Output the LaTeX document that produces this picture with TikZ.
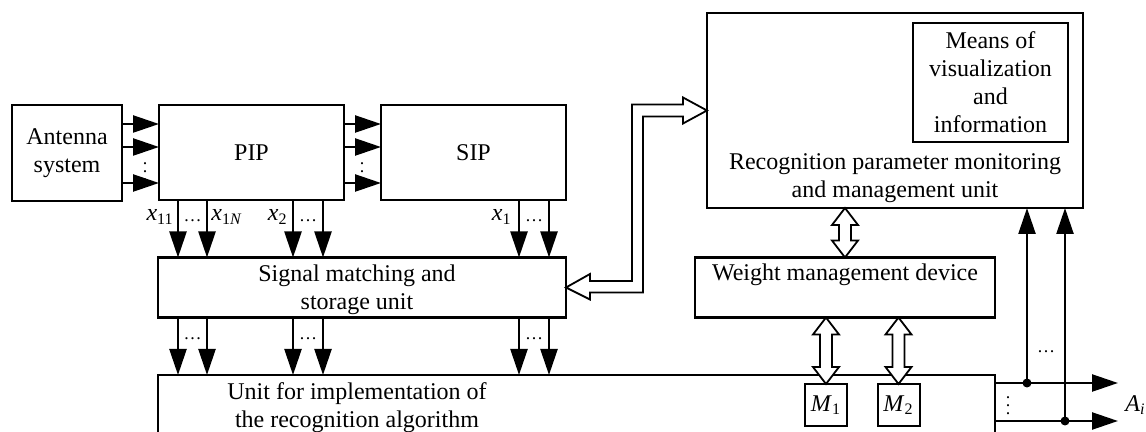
\documentclass[tikz,border=0pt]{standalone}
\usepackage{fontspec}
\setmainfont{Liberation Serif}
\usetikzlibrary{arrows.meta,calc}

\begin{document}
\begin{tikzpicture}[x=0.5pt, y=-0.5pt, line join=miter,
    font=\fontsize{12}{14}\selectfont,
    box/.style={draw, line width=1.2pt, inner sep=0pt, outer sep=0pt, align=center},
    arr/.style={line width=1.2pt, -{Triangle[length=13pt, width=8.5pt]}},
    hollow/.style={draw, fill=white, line width=0.9pt},
    jdot/.style={circle, fill, inner sep=0pt, minimum size=4.5pt}]

    \useasboundingbox (0,0) rectangle (1146,432);

    % blocks
    \node[box, minimum width=55pt, minimum height=48pt] (ant) at (67,153) {Antenna\\system};
    \node[box, minimum width=92.5pt, minimum height=47.5pt] (pip) at (251.5,152.5) {PIP};
    \node[box, minimum width=92.5pt, minimum height=47.5pt] (sip) at (473.5,152.5) {SIP};
    \node[box, minimum width=204pt, minimum height=30pt] (sig) at (362,287.5) {};
    \node[box, minimum width=418.5pt, minimum height=40pt] (unit) at (576.5,415) {};
    \node[box, minimum width=188pt, minimum height=97.5pt] (mon) at (895,110.5) {};
    \node[box, minimum width=77.5pt, minimum height=59.5pt] (vis) at (990.5,82.5) {Means of\\visualization\\and\\information};
    \node[box, minimum width=150pt, minimum height=30pt] (wgt) at (845,287.5) {};
    \node[box, line width=1pt, minimum width=21pt, minimum height=21pt] (m1) at (826,405) {\textit{M}\textsubscript{1}};
    \node[box, line width=1pt, minimum width=21pt, minimum height=21pt] (m2) at (898.5,405) {\textit{M}\textsubscript{2}};

    % block texts
    \node[anchor=north, align=center, inner sep=0pt] (sigtxt) at ($(sig.north)+(-5,7)$) {Signal matching and\\storage unit};
    \node[anchor=north, align=center, inner sep=0pt] (unittxt) at ($(unit.north -| sig.north)+(-5,7)$) {Unit for implementation of\\the recognition algorithm};
    \node[anchor=south, align=center, inner sep=0pt] (montxt) at ($(mon.south)+(0,-5)$) {Recognition parameter monitoring\\and management unit};
    \node[anchor=north, inner sep=0pt] (wgttxt) at ($(wgt.north)+(0,6)$) {Weight management device};

    % signal lines
    \foreach \y in {124,147,183} {
        \draw[arr] (ant.east |- 0,\y) -- (pip.west |- 0,\y);
        \draw[arr] (pip.east |- 0,\y) -- (sip.west |- 0,\y);
    }
    \foreach \x in {178,207,293,323}
        \draw[arr] (pip.south -| \x,0) -- (sig.north -| \x,0);
    \foreach \x in {519,549}
        \draw[arr] (sip.south -| \x,0) -- (sig.north -| \x,0);
    \foreach \x in {178,207,293,323,519,549}
        \draw[arr] (sig.south -| \x,0) -- (unit.north -| \x,0);

    \node[font=\small, inner sep=0pt] (vd1) at (145,166) {$\vdots$};
    \node[font=\small, inner sep=0pt] (vd2) at (362,166) {$\vdots$};
    \node[anchor=east, inner sep=1pt] (x11) at (176,217) {\textit{x}\textsubscript{11}};
    \node[anchor=west, inner sep=1pt] (x1n) at (209,217) {\textit{x}\textsubscript{1\textit{N}}};
    \node[anchor=east, inner sep=1pt] (x2) at (290,217) {\textit{x}\textsubscript{2}};
    \node[anchor=east, inner sep=1pt] (x1) at (514,217) {\textit{x}\textsubscript{1}};
    \foreach \x in {192.5,308,534} {
        \node[font=\small] at (\x,221) {\ldots};
        \node[font=\small] at (\x,339) {\ldots};
    }

    % outputs
    \coordinate (o1) at ($(unit.north east)+(0,8)$);
    \coordinate (o2) at ($(unit.north east)+(0,46)$);
    \draw[arr] (o1) -- ++(123,0);
    \draw[arr] (o2) -- ++(123,0);
    \node[jdot] (j1) at ($(o1)+(32,0)$) {};
    \node[jdot] (j2) at ($(o2)+(70,0)$) {};
    \draw[arr] (j1.center) -- (j1 |- mon.south);
    \draw[arr] (j2.center) -- (j2 |- mon.south);
    \node[font=\small] (hd) at (1046,352) {\ldots};
    \node[font=\small] (vd3) at (1008,400) {$\vdots$};
    \node[anchor=west, inner sep=0pt] (ai) at (1125,405) {\textit{A}\textsubscript{\textit{i}}};

    % hollow arrows
    \draw[hollow] (sig.east) -- ++(24,-13.5) -- ++(0,7) -| ($(mon.west)+(-75,-6)$)
        -- ++(51,0) -- ++(0,-7) -- (mon.west) -- ++(-24,13) -- ++(0,-7)
        -| ($(sig.east)+(77,5)$) -- ++(-53,0) -- ++(0,7) -- cycle;
    \foreach \t/\s in {wgt/mon, m1/wgt, m2/wgt}
        \draw[hollow] (\t.north |- \s.south) -- ++(13,17) -- ++(-7,0)
            |- ($(\t.north)+(6,-17)$) -- ++(7,0) -- (\t.north) -- ++(-13,-17)
            -- ++(7,0) |- ($(\t.north |- \s.south)+(-6,17)$) -- ++(-7,0) -- cycle;

\end{tikzpicture}
\end{document}
